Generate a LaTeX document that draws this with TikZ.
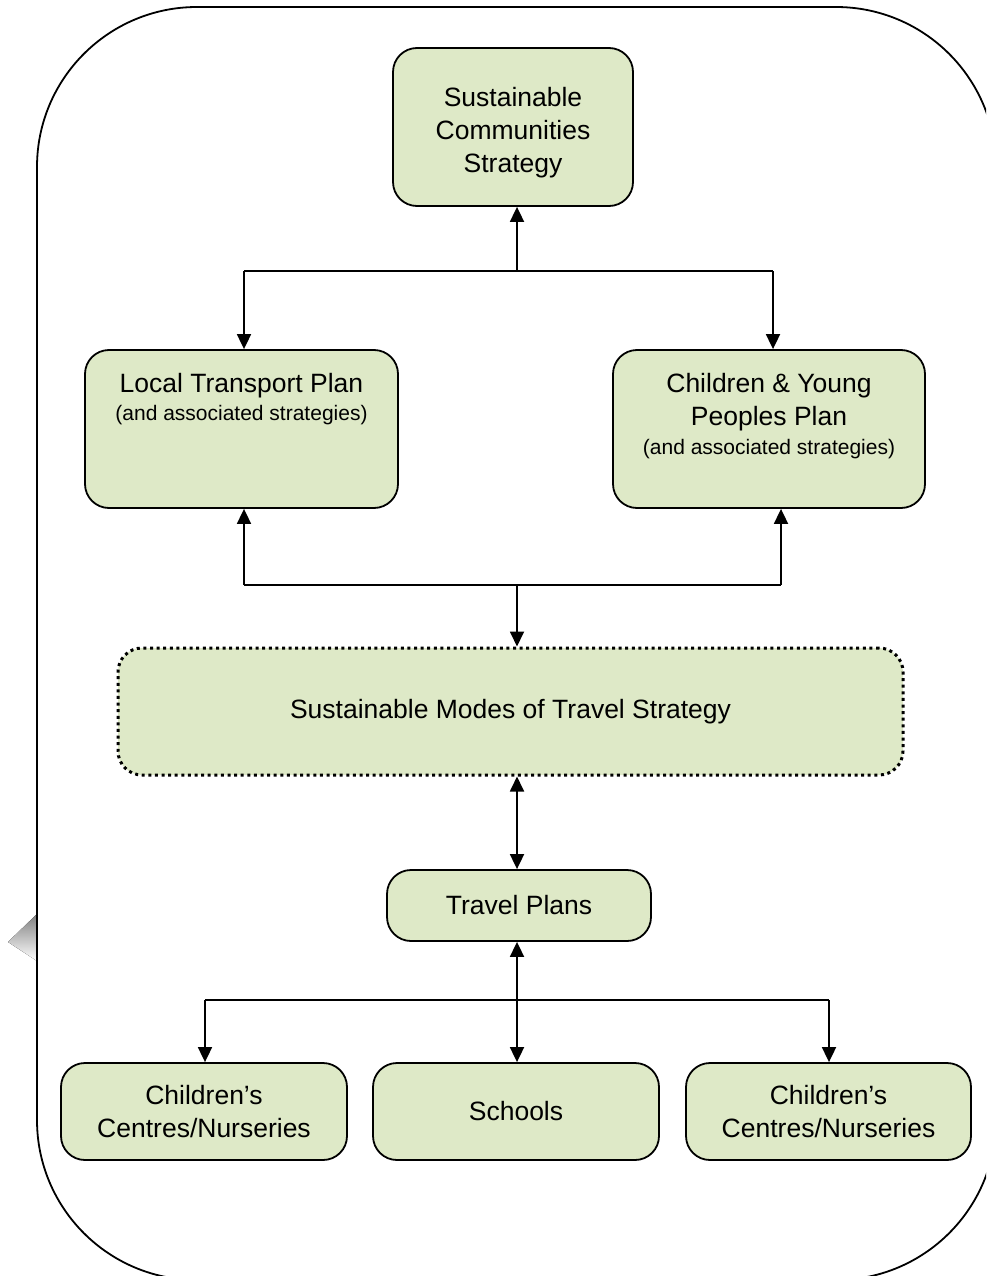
\documentclass[tikz,border=0pt]{standalone}
\usepackage{fontspec}
\setmainfont{Liberation Sans}
\usetikzlibrary{arrows.meta,calc}
\definecolor{leaf}{HTML}{DEE9C7}
\definecolor{shade}{HTML}{DDDDDD}
\newcommand\bigtxt{\fontsize{26.5}{33}\selectfont}
\newcommand\smalltxt{\fontsize{21}{26}\selectfont}

\begin{document}
\begin{tikzpicture}[
  x=1pt,y=-1pt,
  every node/.style={font=\bigtxt,align=center,inner sep=0pt},
  planbox/.style={draw,fill=leaf,rounded corners=24pt,line width=1.8pt},
  dotbox/.style={planbox,line width=3pt,dash pattern=on 3pt off 3.6pt},
  wire/.style={line width=1.8pt},
  edge/.style={wire,-{Triangle[width=14pt,length=15pt]}},
  twoway/.style={wire,{Triangle[width=14pt,length=15pt]}-{Triangle[width=14pt,length=15pt]}},
  frame/.style={line width=1.8pt,rounded corners=160pt}
]
\useasboundingbox (0,0) rectangle (986,1276);
\begin{scope}
\clip (0,0) rectangle (986,1276);
\fill[shade] (8,942) -- (37,914) -- (37,961) -- cycle;
\draw[frame] (37,7) rectangle (996,1280);
\end{scope}

% boxes
\node[planbox,minimum width=240,minimum height=158] (scs) at (513,127)
  {\parbox[c][80pt][t]{230pt}{\centering Sustainable\\Communities\\Strategy}};
\node[planbox,minimum width=313,minimum height=158] (ltp) at (241.5,429)
  {\parbox[c][112pt][t]{300pt}{\centering Local Transport Plan\\[-5pt]{\smalltxt (and associated strategies)}}};
\node[planbox,minimum width=312,minimum height=158] (cypp) at (769,429)
  {\parbox[c][112pt][t]{300pt}{\centering Children \& Young\\Peoples Plan\\[-4pt]{\smalltxt (and associated strategies)}}};
\node[dotbox,minimum width=785,minimum height=127] (smts) at (510.5,711.5) {Sustainable Modes of Travel Strategy};
\node[planbox,minimum width=264,minimum height=71] (tp) at (519,905.5) {Travel Plans};
\node[planbox,minimum width=286,minimum height=97] (ccnl) at (204,1111.5) {Children’s\\Centres/Nurseries};
\node[planbox,minimum width=286,minimum height=97] (schools) at (516,1111.5) {Schools};
\node[planbox,minimum width=285,minimum height=97] (ccnr) at (828.5,1111.5) {Children’s\\Centres/Nurseries};

% junctions
\coordinate (spine) at (517,0);
\coordinate (hubA) at (517,271);
\coordinate (hubAl) at (244,271);
\coordinate (hubAr) at (773,271);
\coordinate (hubB) at (517,585);
\coordinate (hubBl) at (244,585);
\coordinate (hubBr) at (781,585);
\coordinate (hubC) at (517,1000);
\coordinate (hubCl) at (205,1000);
\coordinate (hubCr) at (829,1000);

% connectors
\draw[wire] (hubAl) -- (hubAr);
\draw[edge] (hubA) -- (hubA |- scs.south);
\draw[edge] (hubAl) -- (hubAl |- ltp.north);
\draw[edge] (hubAr) -- (hubAr |- cypp.north);
\draw[wire] (hubBl) -- (hubBr);
\draw[edge] (hubBl) -- (hubBl |- ltp.south);
\draw[edge] (hubBr) -- (hubBr |- cypp.south);
\draw[edge] (hubB) -- (hubB |- smts.north);
\draw[twoway] (spine |- smts.south) -- (spine |- tp.north);
\draw[twoway] (spine |- tp.south) -- (spine |- schools.north);
\draw[wire] (hubCl) -- (hubCr);
\draw[edge] (hubCl) -- (hubCl |- ccnl.north);
\draw[edge] (hubCr) -- (hubCr |- ccnr.north);
\end{tikzpicture}
\end{document}
